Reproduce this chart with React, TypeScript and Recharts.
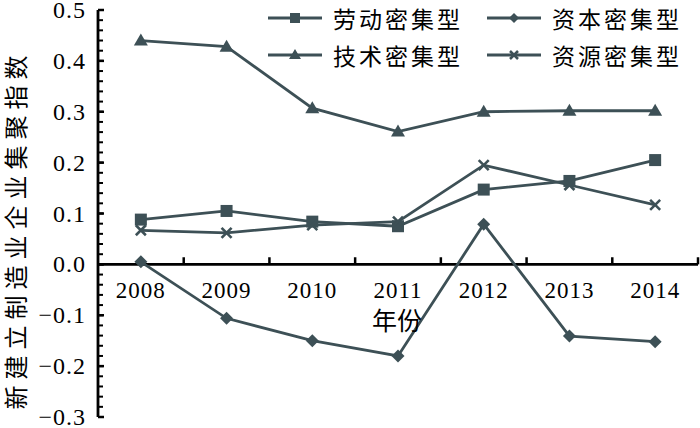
import React from 'react';
import {
  LineChart,
  Line,
  XAxis,
  YAxis,
  Legend,
  ReferenceLine,
  ReferenceDot,
  Label,
} from 'recharts';

const YEARS = ['2008', '2009', '2010', '2011', '2012', '2013', '2014'];
const LABOR = [0.088, 0.105, 0.084, 0.075, 0.147, 0.164, 0.205];
const CAPITAL = [0.005, -0.106, -0.15, -0.18, 0.079, -0.141, -0.152];
const TECH = [0.44, 0.428, 0.307, 0.261, 0.3, 0.302, 0.302];
const RESOURCE = [0.067, 0.062, 0.077, 0.084, 0.195, 0.156, 0.117];

const SERIES_NAMES = ['劳动密集型', '资本密集型', '技术密集型', '资源密集型'];
const Y_TITLE = '新建立制造业企业集聚指数';
const X_TITLE = '年份';

const MAJOR_TICKS = [-0.3, -0.2, -0.1, 0, 0.1, 0.2, 0.3, 0.4, 0.5];
const MINOR_TICKS = Array.from({ length: 41 }, (_, k) => Math.round((-0.3 + k * 0.02) * 100) / 100);
const X_BOUNDARIES = [0.5, 1.5, 2.5, 3.5, 4.5, 5.5, 6.5];

const data = YEARS.map((y, i) => ({
  i,
  year: y,
  labor: LABOR[i],
  capital: CAPITAL[i],
  tech: TECH[i],
  resource: RESOURCE[i],
}));

const C = '#3d5056';
const SW = 2.8;
const SERIF = '"Liberation Serif", "Times New Roman", serif';
const CJK = '"Noto Sans CJK SC", sans-serif';

const SquareDot = (p: any) => {
  const { cx, cy } = p;
  if (cx == null || cy == null) return <g />;
  return <rect x={cx - 6} y={cy - 6} width={12} height={12} fill={C} />;
};
const DiamondDot = (p: any) => {
  const { cx, cy } = p;
  if (cx == null || cy == null) return <g />;
  const r = 6.5;
  return <polygon points={`${cx},${cy - r} ${cx + r},${cy} ${cx},${cy + r} ${cx - r},${cy}`} fill={C} />;
};
const TriangleDot = (p: any) => {
  const { cx, cy } = p;
  if (cx == null || cy == null) return <g />;
  return <polygon points={`${cx},${cy - 7} ${cx + 7},${cy + 5} ${cx - 7},${cy + 5}`} fill={C} />;
};
const CrossDot = (p: any) => {
  const { cx, cy } = p;
  if (cx == null || cy == null) return <g />;
  const r = 5;
  return (
    <g stroke={C} strokeWidth={2.6}>
      <line x1={cx - r} y1={cy - r} x2={cx + r} y2={cy + r} />
      <line x1={cx - r} y1={cy + r} x2={cx + r} y2={cy - r} />
    </g>
  );
};

const LegendIcon = ({ kind }: { kind: string }) => {
  const cx = 27;
  const cy = 8;
  let marker: any = null;
  if (kind === 'square') marker = <rect x={cx - 5} y={cy - 5} width={10} height={10} fill={C} />;
  if (kind === 'diamond')
    marker = <polygon points={`${cx},${cy - 5} ${cx + 5},${cy} ${cx},${cy + 5} ${cx - 5},${cy}`} fill={C} />;
  if (kind === 'triangle')
    marker = <polygon points={`${cx},${cy - 6} ${cx + 6},${cy + 4} ${cx - 6},${cy + 4}`} fill={C} />;
  if (kind === 'cross')
    marker = (
      <g stroke={C} strokeWidth={2.5}>
        <line x1={cx - 4} y1={cy - 4} x2={cx + 4} y2={cy + 4} />
        <line x1={cx - 4} y1={cy + 4} x2={cx + 4} y2={cy - 4} />
      </g>
    );
  return (
    <svg width={54} height={16} style={{ display: 'block' }}>
      <line x1={0} y1={cy} x2={54} y2={cy} stroke={C} strokeWidth={SW} />
      {marker}
    </svg>
  );
};

const LEGEND_ITEMS = [
  { name: SERIES_NAMES[0], kind: 'square', left: 268, top: 18 },
  { name: SERIES_NAMES[1], kind: 'diamond', left: 487, top: 18 },
  { name: SERIES_NAMES[2], kind: 'triangle', left: 268, top: 55 },
  { name: SERIES_NAMES[3], kind: 'cross', left: 487, top: 55 },
];

const renderLegend = () => (
  <div style={{ position: 'relative', width: 700, height: 80 }}>
    {LEGEND_ITEMS.map((it) => (
      <div
        key={it.name}
        style={{
          position: 'absolute',
          left: it.left,
          top: it.top - 15,
          height: 30,
          display: 'flex',
          alignItems: 'center',
          whiteSpace: 'nowrap',
        }}
      >
        <LegendIcon kind={it.kind} />
        <span
          style={{
            marginLeft: 11,
            fontFamily: CJK,
            fontSize: 23,
            letterSpacing: 3,
            lineHeight: '30px',
            color: '#000',
          }}
        >
          {it.name}
        </span>
      </div>
    ))}
  </div>
);

const fmt = (v: number) => (v < 0 ? '\u2212' : '') + Math.abs(v).toFixed(1);

const YTick = (p: any) => {
  const { x, y, payload } = p;
  return (
    <text
      x={x}
      y={y}
      textAnchor="end"
      dominantBaseline="central"
      fontFamily={SERIF}
      fontSize={24}
      letterSpacing={1}
      fill="#000"
    >
      {fmt(payload.value)}
    </text>
  );
};

export default function App() {
  return (
    <div style={{ position: 'absolute', left: 0, top: 0, width: 700, height: 428, background: '#fff' }}>
      <LineChart width={700} height={428} data={data} margin={{ top: 10, right: 2, bottom: 11, left: 0 }}>
        <XAxis dataKey="i" type="number" domain={[-0.5, 6.5]} hide />
        <YAxis
          yAxisId="main"
          domain={[-0.3, 0.5]}
          ticks={MAJOR_TICKS}
          width={98}
          tickLine={false}
          tickSize={0}
          tickMargin={12}
          axisLine={{ stroke: '#000', strokeWidth: 2.8 }}
          tick={YTick}
          interval={0}
          allowDataOverflow
        >
          <Label
            content={(p: any) => {
              const vb = p && p.viewBox ? p.viewBox : { x: 0, y: 10, width: 98, height: 407 };
              const x = vb.x + 14;
              const y = vb.y + vb.height / 2 + 16;
              return (
                <text
                  x={x}
                  y={y}
                  transform={`rotate(-90, ${x}, ${y})`}
                  textAnchor="middle"
                  dominantBaseline="central"
                  fontFamily={CJK}
                  fontSize={24}
                  letterSpacing={6}
                  fill="#000"
                >
                  {Y_TITLE}
                </text>
              );
            }}
          />
        </YAxis>
        <YAxis
          yAxisId="minor"
          domain={[-0.3, 0.5]}
          ticks={MINOR_TICKS}
          mirror
          width={1}
          axisLine={false}
          tickSize={4}
          tickLine={{ stroke: '#000', strokeWidth: 2 }}
          tickFormatter={() => ''}
          interval={0}
          allowDataOverflow
        />
        <YAxis
          yAxisId="major"
          domain={[-0.3, 0.5]}
          ticks={MAJOR_TICKS}
          mirror
          width={1}
          axisLine={false}
          tickSize={6}
          tickLine={{ stroke: '#000', strokeWidth: 2.5 }}
          tickFormatter={() => ''}
          interval={0}
          allowDataOverflow
        />
        <ReferenceLine yAxisId="main" y={0} stroke="#000" strokeWidth={2.8} />
        {X_BOUNDARIES.map((b) => (
          <ReferenceLine
            key={'b' + b}
            yAxisId="main"
            segment={[
              { x: b, y: 0 },
              { x: b, y: 0.014 },
            ]}
            stroke="#000"
            strokeWidth={2.5}
          />
        ))}
        {YEARS.map((yr, i) => (
          <ReferenceDot
            key={'l' + yr}
            yAxisId="main"
            x={i}
            y={0}
            r={1}
            fill="none"
            stroke="none"
            label={(p: any) => {
              const vb = p.viewBox;
              const cx = vb.x + vb.width / 2;
              const cy = vb.y + vb.height / 2;
              return (
                <text
                  x={cx}
                  y={cy + 26}
                  textAnchor="middle"
                  dominantBaseline="central"
                  fontFamily={SERIF}
                  fontSize={23}
                  letterSpacing={1}
                  fill="#000"
                >
                  {yr}
                </text>
              );
            }}
          />
        ))}
        <ReferenceDot
          yAxisId="main"
          x={3}
          y={0}
          r={1}
          fill="none"
          stroke="none"
          label={(p: any) => {
            const vb = p.viewBox;
            const cx = vb.x + vb.width / 2;
            const cy = vb.y + vb.height / 2;
            return (
              <text
                x={cx - 1}
                y={cy + 55}
                textAnchor="middle"
                dominantBaseline="central"
                fontFamily={CJK}
                fontSize={25}
                fill="#000"
              >
                {X_TITLE}
              </text>
            );
          }}
        />
        <Legend
          layout="vertical"
          verticalAlign="middle"
          align="center"
          content={renderLegend}
          wrapperStyle={{ position: 'absolute', left: 0, top: 0, width: 700, height: 80 }}
        />
        <Line yAxisId="main" type="linear" dataKey="labor" name={SERIES_NAMES[0]} stroke={C} strokeWidth={SW} dot={SquareDot} activeDot={false} isAnimationActive={false} />
        <Line yAxisId="main" type="linear" dataKey="capital" name={SERIES_NAMES[1]} stroke={C} strokeWidth={SW} dot={DiamondDot} activeDot={false} isAnimationActive={false} />
        <Line yAxisId="main" type="linear" dataKey="tech" name={SERIES_NAMES[2]} stroke={C} strokeWidth={SW} dot={TriangleDot} activeDot={false} isAnimationActive={false} />
        <Line yAxisId="main" type="linear" dataKey="resource" name={SERIES_NAMES[3]} stroke={C} strokeWidth={SW} dot={CrossDot} activeDot={false} isAnimationActive={false} />
      </LineChart>
    </div>
  );
}
